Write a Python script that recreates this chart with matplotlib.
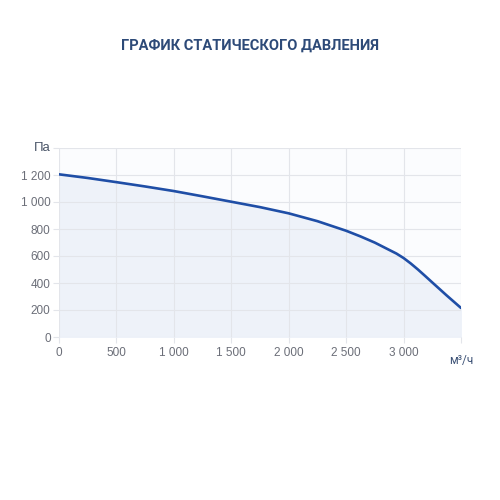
import matplotlib.pyplot as plt
from matplotlib.ticker import FuncFormatter

# airflow, m3/h
flow = [0, 250, 500, 750, 1000, 1250, 1500, 1750, 2000, 2250, 2500, 2625, 2750,
        2875, 2938, 3000, 3062, 3125, 3188, 3250, 3375, 3500]
# static pressure, Pa
pressure = [1205, 1178, 1147, 1115, 1081, 1042, 1002, 962, 916, 858, 787, 745, 699,
            645, 618, 585, 545, 500, 452, 404, 308, 215]

x_ticks = [0, 500, 1000, 1500, 2000, 2500, 3000]
y_ticks = [0, 200, 400, 600, 800, 1000, 1200, 1400]

title = "ГРАФИК СТАТИЧЕСКОГО ДАВЛЕНИЯ"
y_unit = "Па"
x_unit = "м³/ч"

plt.rcParams['font.family'] = ['Liberation Sans', 'DejaVu Sans']

fig = plt.figure(figsize=(5, 5), dpi=100)
fig.patch.set_facecolor("white")
ax = fig.add_axes([0.118, 0.326, 0.804, 0.378])
ax.set_facecolor("#fbfcfe")

ax.fill_between(flow, pressure, 0, color="#eef2f9", zorder=1)
ax.plot(flow, pressure, color="#1f4ea6", lw=1.9, zorder=3,
        solid_capstyle="round", solid_joinstyle="round")

ax.set_xlim(0, 3500)
ax.set_ylim(0, 1400)
ax.set_xticks(x_ticks + [3500])
ax.set_yticks(y_ticks)

def fmt(v, pos):
    return "{:,}".format(int(v)).replace(",", " ")

ax.xaxis.set_major_formatter(FuncFormatter(lambda v, p: "" if v == 3500 else fmt(v, p)))
ax.yaxis.set_major_formatter(FuncFormatter(lambda v, p: "" if v == 1400 else fmt(v, p)))

ax.grid(True, color="#e3e5ea", lw=0.8, zorder=0)
ax.tick_params(axis="both", colors="#e3e5ea", labelcolor="#6b6e78", labelsize=8.5, length=4, width=0.8)
ax.tick_params(axis="y", pad=2)
ax.tick_params(axis="x", pad=3)
for s in ax.spines.values():
    s.set_visible(False)

ax.text(-0.02, 1.0, y_unit, transform=ax.transAxes, ha="right", va="center",
        fontsize=9.5, color="#4a5568")
ax.text(1.0, -0.125, x_unit, transform=ax.transAxes, ha="center", va="center",
        fontsize=8.5, color="#3e5377", family=["Roboto", "DejaVu Sans"])

fig.text(0.5, 0.908, title, ha="center", va="center", fontsize=10.5,
         fontweight="bold", color="#2d4a78", family=["Roboto", "DejaVu Sans"])

fig.savefig("out.png", dpi=100)
